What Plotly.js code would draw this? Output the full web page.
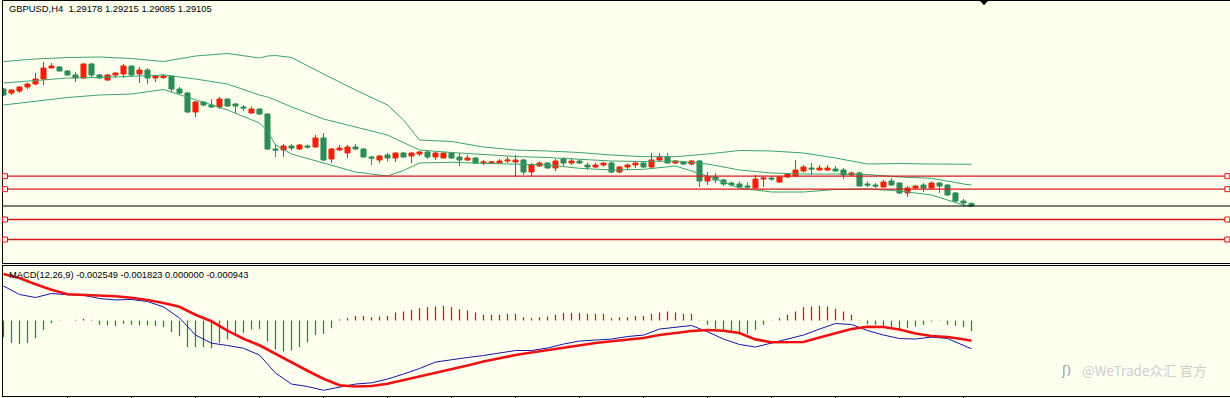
<!DOCTYPE html>
<html>
<head>
<meta charset="utf-8">
<script src="https://cdn.plot.ly/plotly-3.0.1.min.js"></script>
<style>html,body{margin:0;padding:0;background:#fffff0;}#chart{width:1230px;height:398px;}</style>
</head>
<body>
<div id="chart"></div>
<script>
// ---------- DATA ----------
const symbolLabel = "GBPUSD,H4";
const macdLabel = "MACD(12,26,9) -0.002549 -0.001823 0.000000 -0.000943";
const watermark = "@WeTrade众汇 官方";

const open = [1.32615,1.32495,1.32555,1.32675,1.32765,1.32915,1.33245,1.33275,1.33155,1.33035,
1.32945,1.33365,1.33035,1.32885,1.33035,1.33065,1.33305,1.33065,1.33185,1.32945,
1.3296,1.33005,1.32615,1.32495,1.31925,1.32225,1.32135,1.32075,1.32315,1.32165,
1.32075,1.31895,1.32015,1.31865,1.30815,1.30785,1.30905,1.30815,1.30905,1.30875,
1.31145,1.30515,1.30785,1.30695,1.30875,1.30815,1.30575,1.30485,1.30635,1.30545,
1.30695,1.30605,1.30665,1.30725,1.30575,1.30545,1.30695,1.30575,1.30485,1.30545,
1.30395,1.30395,1.30395,1.30455,1.30425,1.30485,1.30125,1.30305,1.30395,1.30245,
1.30515,1.30395,1.30455,1.30335,1.30275,1.30335,1.30395,1.30125,1.30275,1.30335,
1.30395,1.30275,1.30485,1.30575,1.30395,1.30425,1.30365,1.30455,1.29855,1.29975,
1.29885,1.29795,1.29765,1.29705,1.29645,1.29915,1.29945,1.29825,1.29975,1.30005,
1.30155,1.30245,1.30185,1.30185,1.30215,1.30185,1.30035,1.30095,1.29765,1.29735,
1.29675,1.29855,1.29795,1.29495,1.29645,1.29735,1.29645,1.29795,1.29735,1.29495,
1.29255,1.29178];
const high = [1.32645,1.326,1.32705,1.32795,1.33095,1.33425,1.33395,1.33305,1.33185,1.33125,
1.33395,1.33395,1.33065,1.33065,1.3311,1.33365,1.3332,1.33275,1.33245,1.33035,
1.33065,1.3302,1.32675,1.32525,1.32255,1.3224,1.32315,1.32375,1.3233,1.32195,
1.32135,1.3209,1.3203,1.31895,1.30935,1.30965,1.30965,1.30965,1.3095,1.31235,
1.31295,1.30845,1.30935,1.30935,1.30965,1.30845,1.30605,1.30635,1.30695,1.3071,
1.30725,1.30725,1.30755,1.30755,1.30725,1.3071,1.3071,1.30695,1.30635,1.30575,
1.30485,1.30455,1.30515,1.3059,1.30635,1.30515,1.30395,1.3044,1.3041,1.30515,
1.30575,1.30545,1.30485,1.3041,1.3041,1.3041,1.3044,1.30305,1.3038,1.3044,
1.3044,1.30695,1.30695,1.30695,1.30485,1.30455,1.30485,1.30485,1.30125,1.30095,
1.29915,1.2984,1.2984,1.2981,1.30035,1.2999,1.2999,1.2999,1.30095,1.30485,
1.30335,1.30395,1.30335,1.30335,1.30305,1.30245,1.3014,1.3014,1.2984,1.29795,
1.29885,1.29945,1.2981,1.29705,1.29735,1.29795,1.2984,1.2981,1.29765,1.29525,
1.29315,1.29215];
const low = [1.32405,1.32435,1.32495,1.32615,1.32735,1.32735,1.3323,1.3314,1.33005,1.32825,
1.32915,1.32975,1.32915,1.32855,1.32945,1.32945,1.32975,1.32795,1.32765,1.32825,
1.32915,1.32525,1.32435,1.31895,1.31775,1.3209,1.32045,1.32015,1.32075,1.31895,
1.31955,1.3188,1.31835,1.30785,1.30575,1.30575,1.3077,1.30785,1.3083,1.3086,
1.30455,1.30395,1.30755,1.30545,1.30785,1.3056,1.30335,1.30395,1.3044,1.30425,
1.3056,1.30395,1.30605,1.30515,1.30485,1.3053,1.30515,1.30305,1.30455,1.3038,
1.30335,1.30365,1.3038,1.30395,1.29975,1.30035,1.30005,1.30275,1.3023,1.30155,
1.3029,1.30335,1.30365,1.30185,1.30245,1.3029,1.3008,1.3008,1.30185,1.30245,
1.30245,1.30215,1.30425,1.3038,1.30365,1.30335,1.30335,1.29675,1.29735,1.29795,
1.29705,1.2969,1.2966,1.29645,1.2963,1.29675,1.2987,1.29795,1.2996,1.29975,
1.3011,1.30035,1.3017,1.30155,1.3014,1.29915,1.2999,1.2969,1.29675,1.29645,
1.2966,1.29705,1.29465,1.29375,1.29615,1.29525,1.29615,1.29495,1.29405,1.2921,
1.29075,1.29085];
const close = [1.32435,1.32585,1.32675,1.32765,1.32915,1.33245,1.33305,1.33155,1.33035,1.32945,
1.33365,1.33035,1.32945,1.33035,1.33095,1.33305,1.33035,1.33185,1.32945,1.33005,
1.33005,1.32615,1.32495,1.31925,1.32225,1.32135,1.32075,1.32315,1.32105,1.32105,
1.32045,1.32015,1.31865,1.30815,1.30785,1.30905,1.30845,1.30935,1.30875,1.31145,
1.30485,1.30815,1.30845,1.30875,1.30815,1.30575,1.30545,1.30605,1.30545,1.30695,
1.30575,1.30695,1.30725,1.30575,1.30695,1.30695,1.30545,1.30485,1.30545,1.30395,
1.30425,1.30425,1.30455,1.30485,1.30485,1.30125,1.30335,1.30395,1.30245,1.30455,
1.30395,1.30455,1.30395,1.30275,1.30335,1.30395,1.30125,1.30275,1.30335,1.30395,
1.30275,1.30485,1.30575,1.30395,1.30455,1.30365,1.30455,1.29855,1.29975,1.29885,
1.29765,1.29735,1.29675,1.29675,1.29915,1.29945,1.29915,1.29975,1.30065,1.30185,
1.30275,1.30215,1.30245,1.30245,1.30155,1.30035,1.30095,1.29705,1.29735,1.29705,
1.29825,1.29735,1.29495,1.29645,1.29705,1.29645,1.29795,1.29705,1.29435,1.29255,
1.29195,1.29105];

// Bollinger bands (read at these bar indices)
const bandIdx = [0,4,8,12,16,20,24,28,32,33,34,36,40,44,48,50,52,56,60,64,68,72,76,80,84,88,92,96,100,104,108,112,116,120,121];
const bandUpper = [1.3344,1.33515,1.3356,1.33575,1.3353,1.3344,1.33605,1.3368,1.33545,1.33605,1.3362,1.3356,1.33065,1.32585,1.32135,1.31685,1.31085,1.3104,1.30875,1.30785,1.30755,1.3071,1.30635,1.30584,1.30584,1.30665,1.3077,1.30755,1.30695,1.30545,1.30365,1.3038,1.30365,1.30356,1.30356];
const bandMiddle = [1.32795,1.3287,1.32945,1.3296,1.33005,1.33035,1.32915,1.32765,1.32435,1.32375,1.32285,1.32075,1.31715,1.31475,1.31235,1.3101,1.30785,1.3071,1.30656,1.30590,1.3056,1.3050,1.30455,1.3044,1.30455,1.30365,1.30185,1.30095,1.30065,1.30065,1.3005,1.29975,1.29936,1.29765,1.29735];
const bandLower = [1.32135,1.32255,1.3236,1.32435,1.32465,1.326,1.32285,1.31985,1.31595,1.31355,1.30935,1.30665,1.30395,1.30125,1.30005,1.3017,1.30395,1.30416,1.30386,1.30356,1.30335,1.30236,1.30185,1.30206,1.30305,1.30005,1.29645,1.29525,1.29525,1.296,1.29615,1.29555,1.29435,1.29135,1.29084];

// Horizontal levels and bid
const levels = [1.3000, 1.2961, 1.2870, 1.2810];
const bid = 1.29105;

// MACD
const macdIdx = [0,2,4,6,8,10,12,14,16,18,20,22,24,26,28,30,32,34,36,38,40,42,44,46,48,50,52,54,56,58,60,62,64,66,68,70,72,74,76,78,80,82,84,86,88,90,92,94,96,98,100,102,104,106,108,110,112,114,116,118,120,121];
const macdMain = [0.00311,0.00234,0.00207,0.00243,0.00232,0.00227,0.00198,0.00185,0.00189,0.00171,0.00122,0.00023,-0.00131,-0.00204,-0.00225,-0.00250,-0.00311,-0.00473,-0.00572,-0.00594,-0.00628,-0.00599,-0.00572,-0.00561,-0.00527,-0.00482,-0.00432,-0.00374,-0.00351,-0.00333,-0.00315,-0.00293,-0.00270,-0.00270,-0.00248,-0.00212,-0.00185,-0.00176,-0.00167,-0.00144,-0.00131,-0.00077,-0.00059,-0.00045,-0.00101,-0.00167,-0.00216,-0.00239,-0.00203,-0.00167,-0.00131,-0.00077,-0.00027,-0.00036,-0.00090,-0.00131,-0.00162,-0.00167,-0.00149,-0.00162,-0.00225,-0.002549];
const macdSignal = [0.00419,0.00383,0.00326,0.00277,0.00236,0.00232,0.00227,0.00218,0.00205,0.00185,0.00158,0.00124,0.00052,-0.00007,-0.00092,-0.00164,-0.00223,-0.00299,-0.00380,-0.00452,-0.00524,-0.00583,-0.00594,-0.00590,-0.00569,-0.00536,-0.00504,-0.00477,-0.00441,-0.00405,-0.00369,-0.00338,-0.00311,-0.00288,-0.00266,-0.00245,-0.00227,-0.00203,-0.00187,-0.00171,-0.00158,-0.00131,-0.00114,-0.00095,-0.00086,-0.00092,-0.00113,-0.00170,-0.00196,-0.00198,-0.00194,-0.00153,-0.00117,-0.00077,-0.00057,-0.00059,-0.00081,-0.00117,-0.00140,-0.00149,-0.00169,-0.001823];
const macdHist = [-0.00150,-0.00201,-0.00210,-0.00201,-0.00159,-0.00084,-0.00024,-0.00003,0,0.00006,
0.00015,0.00006,-0.00039,-0.00045,-0.00051,-0.00030,-0.00039,-0.00045,-0.00045,-0.00051,
-0.00060,-0.00105,-0.00141,-0.00240,-0.00240,-0.00240,-0.00249,-0.00201,-0.00171,-0.00129,
-0.00111,-0.00081,-0.00075,-0.00189,-0.00261,-0.00279,-0.00270,-0.00240,-0.00195,-0.00129,
-0.00120,-0.00069,0.00009,0.00021,0.00042,0.00042,0.00030,0.00036,0.00042,0.00072,
0.00081,0.00096,0.00111,0.00120,0.00126,0.00132,0.00120,0.00102,0.00090,0.00072,
0.00051,0.00051,0.00051,0.00060,0.00060,0.00030,0.00021,0.00030,0.00036,0.00051,
0.00066,0.00066,0.00066,0.00060,0.00060,0.00060,0.00021,0.00030,0.00030,0.00042,
0.00042,0.00060,0.00072,0.00081,0.00072,0.00060,0.00060,-0.00003,-0.00039,-0.00078,
-0.00084,-0.00099,-0.00114,-0.00120,-0.00084,-0.00039,-0.00003,0.00021,0.00051,0.00081,
0.00120,0.00126,0.00132,0.00126,0.00105,0.00081,0.00051,0.00003,-0.00033,-0.00039,
-0.00054,-0.00060,-0.00078,-0.00069,-0.00054,-0.00039,-0.00009,-0.00003,-0.00039,-0.00048,
-0.00060,-0.000943];

// ---------- BUILD ----------
const bars = open.map((_, i) => i);
const lastBar = bars.length - 1;
const titleText = symbolLabel + "  " + [open[lastBar], high[lastBar], low[lastBar], close[lastBar]].map(v => v.toFixed(5)).join(" ");

const posX = [], posY = [], negX = [], negY = [];
macdHist.forEach((v, i) => {
  if (v >= 0) { posX.push(i, i, null); posY.push(0, v, null); }
  else { negX.push(i, i, null); negY.push(0, v, null); }
});

const bandColor = '#3aa36f';
const traces = [
  {type:'scatter', mode:'lines', x:bandIdx, y:bandUpper, line:{color:bandColor, width:1}, hoverinfo:'skip', xaxis:'x', yaxis:'y'},
  {type:'scatter', mode:'lines', x:bandIdx, y:bandMiddle, line:{color:bandColor, width:1}, hoverinfo:'skip', xaxis:'x', yaxis:'y'},
  {type:'scatter', mode:'lines', x:bandIdx, y:bandLower, line:{color:bandColor, width:1}, hoverinfo:'skip', xaxis:'x', yaxis:'y'},
  {type:'candlestick', x:bars, open:open, high:high, low:low, close:close, xaxis:'x', yaxis:'y',
   increasing:{line:{color:'#e8280a', width:1}, fillcolor:'#ff1a0a'},
   decreasing:{line:{color:'#2e8b57', width:1}, fillcolor:'#2e8b57'},
   whiskerwidth:0, hoverinfo:'skip'},
  {type:'scatter', mode:'lines', x:posX, y:posY, line:{color:'#d41010', width:1.25}, hoverinfo:'skip', xaxis:'x2', yaxis:'y2', connectgaps:false},
  {type:'scatter', mode:'lines', x:negX, y:negY, line:{color:'#169016', width:1.25}, hoverinfo:'skip', xaxis:'x2', yaxis:'y2', connectgaps:false},
  {type:'scatter', mode:'lines', x:macdIdx, y:macdMain, line:{color:'#1515a8', width:1}, hoverinfo:'skip', xaxis:'x2', yaxis:'y2'},
  {type:'scatter', mode:'lines', x:macdIdx, y:macdSignal, line:{color:'#ee1111', width:2.6}, hoverinfo:'skip', xaxis:'x2', yaxis:'y2'}
];

const W = 1230, H = 398, mL = 3, mR = 0, mT = 1, mB = 2;
const plotW = W - mL - mR, plotH = H - mT - mB;
const px2paperX = px => (px - mL) / plotW;
const px2paperY = py => (H - mB - py) / plotH;

const shapes = [];
levels.forEach(lv => {
  shapes.push({type:'line', xref:'paper', x0:0, x1:1, yref:'y', y0:lv, y1:lv, line:{color:'#d81818', width:1.3}});
  [5, 1227.3].forEach(px => {
    shapes.push({type:'rect', xref:'paper', xsizemode:'pixel', xanchor:px2paperX(px), x0:-2.5, x1:2.5,
      yref:'y', ysizemode:'pixel', yanchor:lv, y0:-2.5, y1:2.5,
      fillcolor:'#fffff0', line:{color:'#d81818', width:1}});
  });
});
shapes.push({type:'line', xref:'paper', x0:0, x1:1, yref:'y', y0:bid, y1:bid, line:{color:'#000000', width:1}});
shapes.push({type:'path', xref:'paper', xsizemode:'pixel', xanchor:px2paperX(984), yref:'paper', ysizemode:'pixel', yanchor:1,
  path:'M -3.5 0 L 3.5 0 L 0 -4 Z', fillcolor:'#000000', line:{color:'#000000', width:0.5}});

// bar i centred on pixel 3.5 + 8*i
const xRange = [-0.0625, -0.0625 + plotW / 8];
const axisBase = {showgrid:false, zeroline:false, showticklabels:false, ticks:'', showline:true, linecolor:'#000000', linewidth:1, fixedrange:true};

const layout = {
  width:W, height:H, margin:{l:mL, r:mR, t:mT, b:mB, pad:0},
  paper_bgcolor:'#fffff0', plot_bgcolor:'#fffff0', showlegend:false,
  boxgap:0.37, boxgroupgap:0,
  xaxis:Object.assign({}, axisBase, {domain:[0,1], range:xRange, anchor:'y', mirror:true, rangeslider:{visible:false}}),
  yaxis:Object.assign({}, axisBase, {domain:[px2paperY(263), 1], range:[1.27395, 1.35255], anchor:'x'}),
  xaxis2:Object.assign({}, axisBase, {domain:[0,1], range:xRange, anchor:'y2', mirror:true, ticks:'outside', ticklen:3, tickcolor:'#000000', tickwidth:1,
    tickmode:'array', tickvals:[8,16,24,32,40,48,56,64,72,80,88,96,104,112,120]}),
  yaxis2:Object.assign({}, axisBase, {domain:[0, px2paperY(266)], range:[-0.006795, 0.004905], anchor:'x2'}),
  shapes:shapes,
  annotations:[
    {xref:'paper', yref:'paper', x:px2paperX(7), y:px2paperY(8.5), xanchor:'left', yanchor:'middle', showarrow:false,
     text:titleText, font:{family:'Liberation Sans, Arial, sans-serif', size:9.4, color:'#000000'}},
    {xref:'paper', yref:'paper', x:px2paperX(7), y:px2paperY(275), xanchor:'left', yanchor:'middle', showarrow:false,
     text:macdLabel, font:{family:'Liberation Sans, Arial, sans-serif', size:9.3, color:'#000000'}},
    {xref:'paper', yref:'paper', x:px2paperX(1059), y:px2paperY(370), xanchor:'left', yanchor:'middle', showarrow:false,
     text:'ʃ)', font:{family:'DejaVu Sans, sans-serif', size:13, color:'#9a9a9a'}},
    {xref:'paper', yref:'paper', x:px2paperX(1080), y:px2paperY(369.5), xanchor:'left', yanchor:'middle', showarrow:false,
     text:watermark, font:{family:'Noto Sans CJK SC, sans-serif', size:13.5, color:'#cdcdcd'}}
  ]
};

Plotly.newPlot('chart', traces, layout, {staticPlot:true, displayModeBar:false});
</script>
</body>
</html>
